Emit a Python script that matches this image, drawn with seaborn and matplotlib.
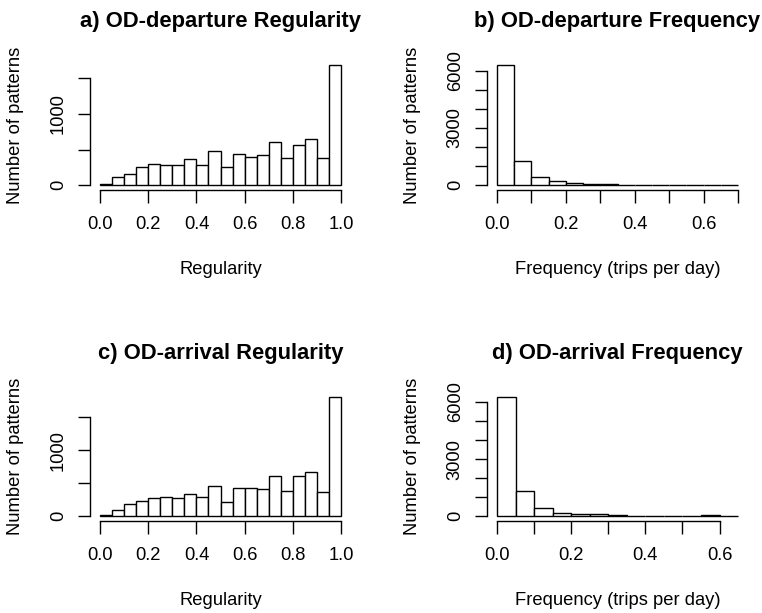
import numpy as np
import pandas as pd
import matplotlib
matplotlib.use("Agg")
import matplotlib.pyplot as plt
import seaborn as sns

# ---------------- data (bin counts) ----------------
bin_width = 0.05

dep_reg_counts = [20, 121, 164, 257, 294, 290, 285, 364, 280, 481,
                  252, 444, 397, 430, 607, 388, 565, 645, 383, 1682]
arr_reg_counts = [20, 101, 182, 237, 273, 288, 273, 338, 293, 465,
                  222, 429, 429, 409, 611, 384, 606, 677, 374, 1813]
dep_freq_counts = [6280, 1290, 436, 209, 100, 50, 50, 8, 6, 5, 4, 3, 2, 2]
arr_freq_counts = [6280, 1312, 455, 192, 100, 100, 45, 40, 40, 5, 5, 45, 5]

titles = ["a) OD-departure Regularity", "b) OD-departure Frequency",
          "c) OD-arrival Regularity", "d) OD-arrival Frequency"]
xlabels = ["Regularity", "Frequency (trips per day)",
           "Regularity", "Frequency (trips per day)"]
ylabel = "Number of patterns"

reg_xticks = [0.0, 0.2, 0.4, 0.6, 0.8, 1.0]
reg_xticklabels = ["0.0", "0.2", "0.4", "0.6", "0.8", "1.0"]
dep_freq_xticks = [0.0, 0.1, 0.2, 0.3, 0.4, 0.5, 0.6, 0.7]
dep_freq_xticklabels = ["0.0", "", "0.2", "", "0.4", "", "0.6", ""]
arr_freq_xticks = [0.0, 0.1, 0.2, 0.3, 0.4, 0.5, 0.6]
arr_freq_xticklabels = ["0.0", "", "0.2", "", "0.4", "", "0.6"]

reg_yticks = [0, 500, 1000, 1500]
reg_yticklabels = ["0", "", "1000", ""]
freq_yticks = [0, 1000, 2000, 3000, 4000, 5000, 6000]
freq_yticklabels = ["0", "", "", "3000", "", "", "6000"]

panels = [
    (dep_reg_counts, reg_xticks, reg_xticklabels, reg_yticks, reg_yticklabels),
    (dep_freq_counts, dep_freq_xticks, dep_freq_xticklabels, freq_yticks, freq_yticklabels),
    (arr_reg_counts, reg_xticks, reg_xticklabels, reg_yticks, reg_yticklabels),
    (arr_freq_counts, arr_freq_xticks, arr_freq_xticklabels, freq_yticks, freq_yticklabels),
]

# ---------------- style ----------------
sns.set_style("white")
plt.rcParams["font.family"] = ["Liberation Sans", "DejaVu Sans"]
plt.rcParams["text.color"] = "black"
plt.rcParams["axes.labelcolor"] = "black"

W, H = 762, 613
fig = plt.figure(figsize=(W / 100, H / 100), dpi=100)
fig.patch.set_facecolor("white")

lefts = [90.4, 487.4]
tops = [60.5, 391.9]
bottoms = [190.1, 521.1]
aw = 260.3

base_fs = 13.2
for i, (counts, xt, xtl, yt, ytl) in enumerate(panels):
    r, c = divmod(i, 2)
    ah = bottoms[r] - tops[r]
    ax = fig.add_axes([lefts[c] / W, (H - bottoms[r]) / H, aw / W, ah / H])

    counts = np.asarray(counts, dtype=float)
    nb = len(counts)
    lo, hi = 0.0, bin_width * nb
    df = pd.DataFrame({"mid": lo + bin_width * (np.arange(nb) + 0.5),
                       "count": counts})
    sns.histplot(data=df, x="mid", weights="count", bins=nb, binrange=(lo, hi),
                 ax=ax, color="white", edgecolor="black", linewidth=1.0,
                 alpha=1.0)

    xr = hi - lo
    ax.set_xlim(lo - 0.04 * xr, hi + 0.04 * xr)
    ym = counts.max()
    ax.set_ylim(-0.04 * ym, 1.04 * ym)

    ax.set_xticks(xt)
    ax.set_xticklabels(xtl)
    ax.set_yticks(yt)
    ax.set_yticklabels(ytl, rotation=90, va="center")

    for s in ["top", "right"]:
        ax.spines[s].set_visible(False)
    ax.spines["bottom"].set_bounds(xt[0], xt[-1])
    ax.spines["left"].set_bounds(yt[0], yt[-1])
    for s in ["bottom", "left"]:
        ax.spines[s].set_color("black")
        ax.spines[s].set_linewidth(1.0)

    ax.tick_params(axis="both", direction="out", length=9, width=1.0,
                   color="black", labelcolor="black", labelsize=base_fs,
                   bottom=True, left=True)
    ax.tick_params(axis="x", pad=10)
    ax.tick_params(axis="y", pad=8)
    ax.grid(False)

    ax.set_title(titles[i], fontsize=15.8, fontweight="bold", pad=24, color="black")
    ax.set_xlabel(xlabels[i], fontsize=base_fs, va="top")
    ax.xaxis.set_label_coords(0.5, -(261.0 - 190.1) / ah)
    ax.set_ylabel(ylabel, fontsize=base_fs)
    ax.yaxis.set_label_coords(-0.256, 0.5)

fig.savefig("out.png", dpi=100, facecolor="white")
